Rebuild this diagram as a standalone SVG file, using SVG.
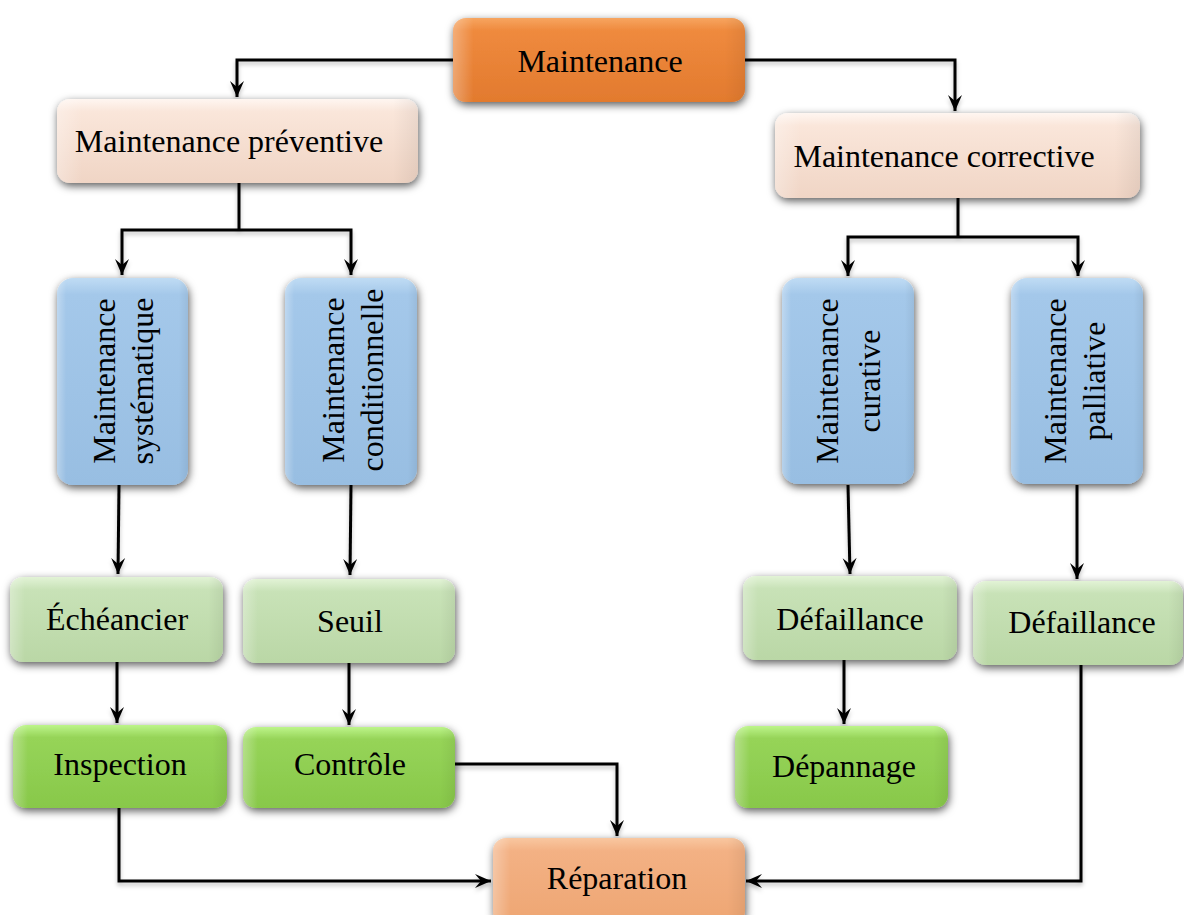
<svg xmlns="http://www.w3.org/2000/svg" width="1184" height="915" viewBox="0 0 1184 915">
<defs>
<filter id="sh" x="-20%" y="-20%" width="140%" height="150%"><feDropShadow dx="1" dy="3" stdDeviation="4" flood-color="#000" flood-opacity="0.65"/></filter>
<filter id="lsh" x="-5%" y="-5%" width="110%" height="110%"><feDropShadow dx="0" dy="3" stdDeviation="2" flood-color="#000" flood-opacity="0.25"/></filter>
<linearGradient id="gOr" x1="0" y1="0" x2="0" y2="1"><stop offset="0" stop-color="#F7A560"/><stop offset="0.15" stop-color="#EF8A3E"/><stop offset="1" stop-color="#E27A2E"/></linearGradient>
<linearGradient id="gPe" x1="0" y1="0" x2="0" y2="1"><stop offset="0" stop-color="#FFF6F1"/><stop offset="0.15" stop-color="#FAE6DA"/><stop offset="1" stop-color="#F0D5C5"/></linearGradient>
<linearGradient id="gBl" x1="0" y1="0" x2="0" y2="1"><stop offset="0" stop-color="#C0DCF4"/><stop offset="0.08" stop-color="#A4C8EA"/><stop offset="1" stop-color="#98BEE2"/></linearGradient>
<linearGradient id="gLg" x1="0" y1="0" x2="0" y2="1"><stop offset="0" stop-color="#E2F3D6"/><stop offset="0.15" stop-color="#C8E2B7"/><stop offset="1" stop-color="#BAD7A6"/></linearGradient>
<linearGradient id="gDg" x1="0" y1="0" x2="0" y2="1"><stop offset="0" stop-color="#BDF58A"/><stop offset="0.15" stop-color="#96D458"/><stop offset="1" stop-color="#88C84A"/></linearGradient>
<linearGradient id="gRp" x1="0" y1="0" x2="0" y2="1"><stop offset="0" stop-color="#F9C7A0"/><stop offset="0.15" stop-color="#F3B184"/><stop offset="1" stop-color="#EEA673"/></linearGradient>
<linearGradient id="bevH" x1="0" y1="0" x2="1" y2="0"><stop offset="0" stop-color="#fff" stop-opacity="0.3"/><stop offset="0.07" stop-color="#fff" stop-opacity="0"/><stop offset="0.93" stop-color="#000" stop-opacity="0"/><stop offset="1" stop-color="#000" stop-opacity="0.06"/></linearGradient>
<marker id="ar" viewBox="-17 -8 18 16" refX="0" refY="0" markerWidth="18" markerHeight="16" markerUnits="userSpaceOnUse" orient="auto"><path d="M0,0 L-16,-7 L-10,0 L-16,7 Z" fill="#000"/></marker>
<style>
text{font-family:"Liberation Serif","Times New Roman",serif;font-size:32px;fill:#000;text-anchor:middle}
.box{filter:url(#sh)}
.bev{fill:url(#bevH)}
.or{fill:url(#gOr)}.pe{fill:url(#gPe)}.bl{fill:url(#gBl)}.lg{fill:url(#gLg)}.dg{fill:url(#gDg)}.rp{fill:url(#gRp)}
.c{fill:none;stroke:#000;stroke-width:3}
.a{marker-end:url(#ar)}
</style>
</defs>
<rect width="1184" height="915" fill="#fff"/>
<g id="connectors" filter="url(#lsh)">
<path class="c a" d="M453,60 H237 V97"/>
<path class="c a" d="M745,60 H955 V111"/>
<path class="c" d="M239,183 V230"/>
<path class="c a" d="M239,230 H122 V275"/>
<path class="c a" d="M239,230 H351 V275"/>
<path class="c" d="M958,198 V237"/>
<path class="c a" d="M958,237 H848 V276"/>
<path class="c a" d="M958,237 H1078 V276"/>
<path class="c a" d="M119,485 L118,574"/>
<path class="c a" d="M351,485 L350,575"/>
<path class="c a" d="M848,485 L850,574"/>
<path class="c a" d="M1077,485 V579"/>
<path class="c a" d="M117,662 V723"/>
<path class="c a" d="M349,663 V725"/>
<path class="c a" d="M844,660 V724"/>
<path class="c a" d="M119,808 V881 H491"/>
<path class="c a" d="M455,764 H617 V836"/>
<path class="c a" d="M1081,665 V881 H746"/>
</g>
<g id="n-maintenance"><rect class="box or" x="453" y="18" width="292" height="84" rx="13"/><rect class="bev" x="453" y="18" width="292" height="84" rx="13"/><text x="600" y="72">Maintenance</text></g>
<g id="n-preventive"><rect class="box pe" x="57" y="99" width="361" height="84" rx="13"/><rect class="bev" x="57" y="99" width="361" height="84" rx="13"/><text x="229" y="152">Maintenance préventive</text></g>
<g id="n-corrective"><rect class="box pe" x="775" y="113" width="365" height="85" rx="13"/><rect class="bev" x="775" y="113" width="365" height="85" rx="13"/><text x="944" y="167">Maintenance corrective</text></g>
<g id="n-systematique"><rect class="box bl" x="57" y="278" width="131" height="207" rx="16"/><rect class="bev" x="57" y="278" width="131" height="207" rx="16"/><text transform="translate(115,381) rotate(-90)">Maintenance</text><text transform="translate(153,381) rotate(-90)">systématique</text></g>
<g id="n-conditionnelle"><rect class="box bl" x="285" y="278" width="132" height="207" rx="16"/><rect class="bev" x="285" y="278" width="132" height="207" rx="16"/><text transform="translate(344,380) rotate(-90)">Maintenance</text><text transform="translate(383,380) rotate(-90)">conditionnelle</text></g>
<g id="n-curative"><rect class="box bl" x="782" y="278" width="132" height="206" rx="16"/><rect class="bev" x="782" y="278" width="132" height="206" rx="16"/><text transform="translate(838,381) rotate(-90)">Maintenance</text><text transform="translate(880,381) rotate(-90)">curative</text></g>
<g id="n-palliative"><rect class="box bl" x="1011" y="278" width="132" height="206" rx="16"/><rect class="bev" x="1011" y="278" width="132" height="206" rx="16"/><text transform="translate(1066,381) rotate(-90)">Maintenance</text><text transform="translate(1105,381) rotate(-90)">palliative</text></g>
<g id="n-echeancier"><rect class="box lg" x="10" y="577" width="213" height="85" rx="13"/><rect class="bev" x="10" y="577" width="213" height="85" rx="13"/><text x="117" y="630">Échéancier</text></g>
<g id="n-seuil"><rect class="box lg" x="243" y="579" width="212" height="84" rx="13"/><rect class="bev" x="243" y="579" width="212" height="84" rx="13"/><text x="350" y="632">Seuil</text></g>
<g id="n-defaillance1"><rect class="box lg" x="743" y="576" width="214" height="84" rx="13"/><rect class="bev" x="743" y="576" width="214" height="84" rx="13"/><text x="850" y="630">Défaillance</text></g>
<g id="n-defaillance2"><rect class="box lg" x="973" y="581" width="210" height="84" rx="13"/><rect class="bev" x="973" y="581" width="210" height="84" rx="13"/><text x="1082" y="633">Défaillance</text></g>
<g id="n-inspection"><rect class="box dg" x="13" y="725" width="214" height="83" rx="13"/><rect class="bev" x="13" y="725" width="214" height="83" rx="13"/><text x="120" y="775">Inspection</text></g>
<g id="n-controle"><rect class="box dg" x="243" y="727" width="212" height="81" rx="13"/><rect class="bev" x="243" y="727" width="212" height="81" rx="13"/><text x="350" y="775">Contrôle</text></g>
<g id="n-depannage"><rect class="box dg" x="735" y="726" width="213" height="82" rx="13"/><rect class="bev" x="735" y="726" width="213" height="82" rx="13"/><text x="844" y="777">Dépannage</text></g>
<g id="n-reparation"><rect class="box rp" x="493" y="838" width="252" height="86" rx="13"/><rect class="bev" x="493" y="838" width="252" height="86" rx="13"/><text x="617" y="889">Réparation</text></g>
</svg>
